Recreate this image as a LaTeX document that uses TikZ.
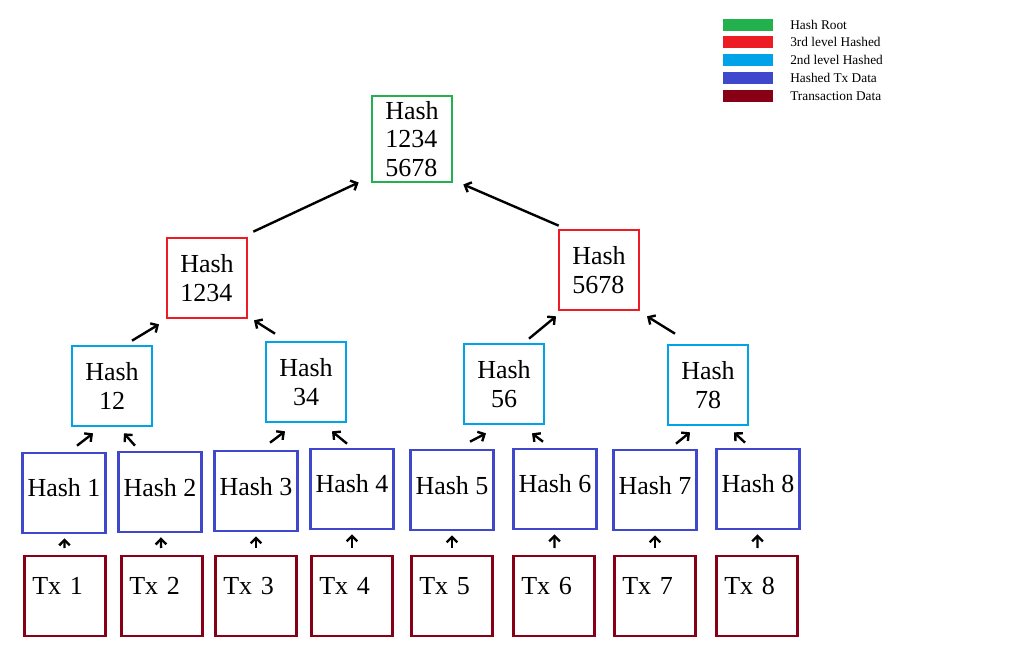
\documentclass[tikz,border=0pt]{standalone}
\usepackage{fontspec}
\setmainfont{Liberation Serif}
\usetikzlibrary{arrows.meta}

\definecolor{rootgreen}{RGB}{34,177,76}
\definecolor{lvlred}{RGB}{237,28,36}
\definecolor{lvlcyan}{RGB}{0,162,232}
\definecolor{hashblue}{RGB}{63,72,204}
\definecolor{txred}{RGB}{136,0,21}

\tikzset{
  hashbox/.style={draw, line width=2pt, minimum width=60pt, minimum height=60pt, inner sep=4pt},
  leafbox/.style={hashbox, draw=hashblue, text height=14pt, text depth=8pt},
  txbox/.style={hashbox, draw=txred, minimum width=61pt, text width=49pt, inner xsep=6pt,
    align=left, text height=14pt, text depth=17pt},
  up/.style={-{Straight Barb[length=4pt,width=8pt]}, line width=1.8pt, black},
}

\begin{document}
\begin{tikzpicture}[x=0.75pt, y=-0.75pt, font=\fontsize{19.5}{21.5}\selectfont]
  \useasboundingbox (0,0) rectangle (1024,655);

  % Root and 3rd level
  \node[hashbox, draw=rootgreen, align=left] (root) at (412,139) {Hash\\1234\\5678};
  \node[hashbox, draw=lvlred, align=left] (m1) at (207,278) {Hash\\1234};
  \node[hashbox, draw=lvlred, align=left] (m2) at (599,270) {Hash\\5678};

  % 2nd level
  \node[hashbox, draw=lvlcyan, align=center] (s12) at (112,386) {Hash\\12};
  \node[hashbox, draw=lvlcyan, align=center] (s34) at (306,382) {Hash\\34};
  \node[hashbox, draw=lvlcyan, align=center] (s56) at (504,384) {Hash\\56};
  \node[hashbox, draw=lvlcyan, align=center] (s78) at (708,385) {Hash\\78};

  % Hashed tx data and transactions (1 to 8)
  \foreach \i/\hx/\hy/\tx in {1/64/493/65, 2/160/492/162, 3/256/491/256, 4/352/489/352,
                              5/452/490/452, 6/555/489/554, 7/655/490/655, 8/758/489/757} {
    \node[leafbox] (h\i) at (\hx,\hy) {Hash \i};
    \node[txbox] (t\i) at (\tx,596) {Tx \i};
    \draw[up, shorten <=5pt, shorten >=3pt] (t\i) -- (h\i); % tx -> its hash
  }

  % Pairs up to 2nd level
  \draw[up] ([shift={(13,-6)}]h1.north) -- ([shift={(-19,6)}]s12.south);
  \draw[up] ([shift={(-25,-5)}]h2.north) -- ([shift={(12,6)}]s12.south);
  \draw[up] ([shift={(14,-7)}]h3.north) -- ([shift={(-21,8)}]s34.south);
  \draw[up] ([shift={(-5,-4)}]h4.north) -- ([shift={(26,8)}]s34.south);
  \draw[up] ([shift={(18,-7)}]h5.north) -- ([shift={(-18,8)}]s56.south);
  \draw[up] ([shift={(-12,-6)}]h6.north) -- ([shift={(28,8)}]s56.south);
  \draw[up] ([shift={(21,-5)}]h7.north) -- ([shift={(-18,6)}]s78.south);
  \draw[up] ([shift={(-13,-5)}]h8.north) -- ([shift={(26,6)}]s78.south);

  % 2nd level up to 3rd level
  \draw[up] ([shift={(20,-4)}]s12.north) -- ([shift={(-48,5)}]m1.south);
  \draw[up] ([shift={(-31,-7)}]s34.north) -- ([shift={(47,1)}]m1.south);
  \draw[up] ([shift={(25,-4)}]s56.north) -- ([shift={(-43,5)}]m2.south);
  \draw[up] ([shift={(-33,-10)}]s78.north) -- ([shift={(48,5)}]m2.south);

  % 3rd level up to root
  \draw[up] ([shift={(5,-5)}]m1.north east) -- ([shift={(-12,-1)}]root.south west);
  \draw[up] ([shift={(1,-3)}]m2.north west) -- ([shift={(10,1)}]root.south east);

  % Legend
  \foreach \n/\c/\t/\y in {1/rootgreen/Hash Root/25, 2/lvlred/3rd level Hashed/42,
                           3/lvlcyan/2nd level Hashed/60, 4/hashblue/Hashed Tx Data/78,
                           5/txred/Transaction Data/96} {
    \node[fill=\c, minimum width=38pt, minimum height=9.4pt, inner sep=0pt] (key\n) at (748,\y) {};
    \node[anchor=west, inner sep=0pt, font=\fontsize{10}{12}\selectfont] (keytext\n) at (790,\y) {\t};
  }
\end{tikzpicture}
\end{document}
